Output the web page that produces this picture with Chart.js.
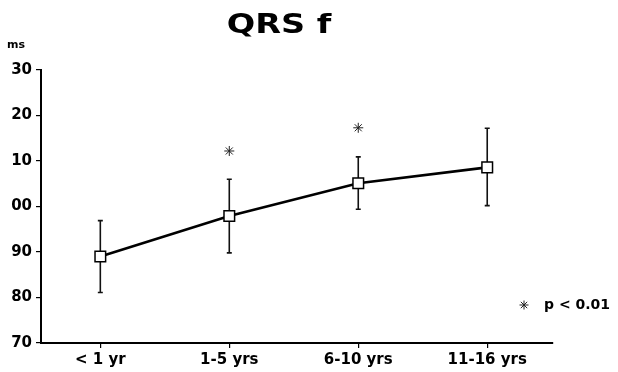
<!DOCTYPE html>
<html>
<head>
<meta charset="utf-8">
<script src="https://cdn.jsdelivr.net/npm/chart.js@4.4.1/dist/chart.umd.min.js"></script>
<style>
  html, body { margin: 0; padding: 0; background: #fff; }
  #wrap { width: 618px; height: 372px; }
</style>
</head>
<body>
<div id="wrap"><canvas id="c" width="618" height="372"></canvas></div>
<script>
// ---- data ----
const categories = ["< 1 yr", "1-5 yrs", "6-10 yrs", "11-16 yrs"];
const means      = [89.0, 97.9, 105.1, 108.6];
const errHigh    = [96.9, 106.0, 110.9, 117.2];
const errLow     = [81.1, 89.8, 99.4, 100.2];
const sigMarks   = [null, 112.2, 117.3, null];
const yTickValues = [70, 80, 90, 100, 110, 120, 130];
const yTickLabels = ["70", "80", "90", "00", "10", "20", "30"];
const titleText = "QRS f";
const unitText = "ms";
const legendText = "p < 0.01";

const FONT = "'DejaVu Sans', sans-serif";

const errorBars = {
  id: 'errorBars',
  beforeDatasetsDraw(chart) {
    const ctx = chart.ctx, xs = chart.scales.x, ys = chart.scales.y;
    ctx.save();
    ctx.strokeStyle = '#111';
    ctx.lineWidth = 1.6;
    for (let i = 0; i < means.length; i++) {
      const x = xs.getPixelForValue(i);
      const yt = ys.getPixelForValue(errHigh[i]);
      const yb = ys.getPixelForValue(errLow[i]);
      ctx.beginPath();
      ctx.moveTo(x, yt); ctx.lineTo(x, yb);
      ctx.moveTo(x - 2.5, yt); ctx.lineTo(x + 2.5, yt);
      ctx.moveTo(x - 2.5, yb); ctx.lineTo(x + 2.5, yb);
      ctx.stroke();
    }
    ctx.restore();
  }
};

const decorations = {
  id: 'decorations',
  afterDraw(chart) {
    const ctx = chart.ctx;
    ctx.save();
    ctx.fillStyle = '#000';
    // title
    ctx.font = "bold 27px " + FONT;
    ctx.textAlign = 'center';
    ctx.textBaseline = 'middle';
    ctx.save();
    ctx.translate(279, 26);
    ctx.scale(1.24, 1);
    ctx.fillText(titleText, 0, 0);
    ctx.restore();
    // unit
    ctx.font = "bold 11px " + FONT;
    ctx.textAlign = 'left';
    ctx.fillText(unitText, 7, 45);
    // legend
    const sx = 524, sy = 305, r = 4.5;
    ctx.strokeStyle = '#222';
    ctx.lineWidth = 1;
    ctx.beginPath();
    for (let k = 0; k < 4; k++) {
      const a = k * Math.PI / 4;
      ctx.moveTo(sx - r * Math.cos(a), sy - r * Math.sin(a));
      ctx.lineTo(sx + r * Math.cos(a), sy + r * Math.sin(a));
    }
    ctx.stroke();
    ctx.font = "bold 14px " + FONT;
    ctx.textAlign = 'left';
    ctx.fillText(legendText, 544, 305);
    ctx.restore();
  }
};

new Chart(document.getElementById('c'), {
  type: 'line',
  data: {
    datasets: [
      {
        data: means.map((v, i) => ({ x: i, y: v })),
        borderColor: '#000',
        borderWidth: 2.6,
        tension: 0,
        pointStyle: 'rect',
        pointRadius: 7.5,
        pointBackgroundColor: '#fff',
        pointBorderColor: '#000',
        pointBorderWidth: 1.5,
        fill: false
      },
      {
        data: sigMarks.map((v, i) => ({ x: i, y: v })),
        showLine: false,
        pointStyle: 'star',
        pointRadius: 5,
        pointBorderColor: '#222',
        pointBorderWidth: 1,
        pointBackgroundColor: '#000'
      }
    ]
  },
  options: {
    responsive: false,
    animation: false,
    layout: { padding: { top: 70, right: 65, left: 0, bottom: 0 } },
    plugins: { legend: { display: false }, tooltip: { enabled: false }, title: { display: false } },
    scales: {
      x: {
        type: 'linear',
        min: -0.46,
        max: 3.51,
        afterBuildTicks(axis) { axis.ticks = categories.map((c, i) => ({ value: i })); },
        afterFit(axis) { axis.height = 29; },
        ticks: {
          callback: (v) => categories[v] ?? '',
          color: '#000',
          font: { family: FONT, size: 15, weight: 'bold' },
          padding: 3,
          maxRotation: 0,
          autoSkip: false
        },
        grid: { display: true, drawOnChartArea: false, drawTicks: true, tickLength: 5, color: '#000', lineWidth: 1.2 },
        border: { display: true, color: '#000', width: 2 }
      },
      y: {
        min: 70,
        max: 130,
        afterBuildTicks(axis) { axis.ticks = yTickValues.map(v => ({ value: v })); },
        afterFit(axis) { axis.width = 41; },
        ticks: {
          callback: (v) => yTickLabels[yTickValues.indexOf(v)] ?? '',
          color: '#000',
          font: { family: FONT, size: 15, weight: 'bold' },
          padding: 4
        },
        grid: { display: true, drawOnChartArea: false, drawTicks: true, tickLength: 5, color: '#000', lineWidth: 1.2 },
        border: { display: true, color: '#000', width: 2 }
      }
    }
  },
  plugins: [errorBars, decorations]
});
</script>
</body>
</html>
